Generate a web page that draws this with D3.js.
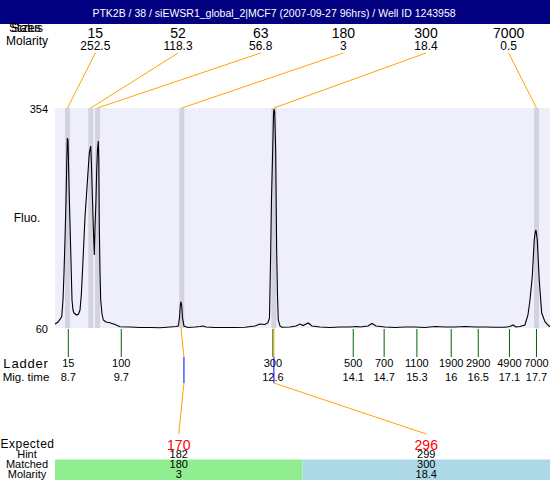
<!DOCTYPE html>
<html><head><meta charset="utf-8">
<script src="https://cdn.jsdelivr.net/npm/d3@7/dist/d3.min.js"></script>
<style>
html,body{margin:0;padding:0;background:#fff;}
svg{display:block;font-family:"Liberation Sans",Arial,Helvetica,sans-serif;}
</style></head>
<body>
<svg id="chart" width="550" height="480"></svg>
<script>
const title = "PTK2B / 38 / siEWSR1_global_2|MCF7 (2007-09-27 96hrs) / Well ID 1243958";

// Detected peaks
const peakSizes = ["15","52","63","180","300","7000"];
const peakMolarity = ["252.5","118.3","56.8","3","18.4","0.5"];
const peakTimes = [8.69, 9.138, 9.267, 10.89, 12.66, 17.71];

// Ladder
const ladderSizes = ["15","100","300","500","700","1100","1900","2900","4900","7000"];
const ladderMigLabels = ["8.7","9.7","12.6","14.1","14.7","15.3","16","16.5","17.1","17.7"];
const ladderTimes = [8.706, 9.725, 12.64, 14.186, 14.78, 15.41, 16.07, 16.59, 17.19, 17.71];

// Expected / matched
const expected = ["170","296"];
const hints = ["182","299"];
const matched = ["180","300"];
const matchedMolarity = ["3","18.4"];
const matchedPeakTimes = [10.873, 12.66];
const matchedMarkTimes = [10.93, 12.66];

// Y axis
const yTicks = [60, 354];

// Electropherogram trace
const traceTime = [8.450,8.508,8.579,8.604,8.623,8.642,8.662,8.675,8.687,8.700,8.713,8.725,8.752,8.777,8.796,8.815,8.867,8.902,8.931,8.956,8.983,9.027,9.056,9.071,9.094,9.110,9.137,9.148,9.167,9.187,9.206,9.219,9.238,9.252,9.267,9.283,9.292,9.302,9.315,9.329,9.354,9.379,9.431,9.508,9.604,9.700,9.892,10.085,10.277,10.469,10.662,10.777,10.821,10.844,10.860,10.873,10.887,10.902,10.931,11.008,11.142,11.238,11.296,11.354,11.527,11.719,11.912,12.104,12.296,12.392,12.488,12.546,12.575,12.598,12.613,12.637,12.652,12.662,12.675,12.694,12.713,12.729,12.744,12.777,12.810,12.969,13.085,13.162,13.219,13.321,13.392,13.546,13.738,13.931,14.123,14.258,14.315,14.469,14.546,14.623,14.796,14.988,15.181,15.373,15.565,15.758,15.950,16.142,16.335,16.527,16.719,16.912,17.104,17.200,17.258,17.315,17.392,17.488,17.546,17.585,17.629,17.667,17.687,17.700,17.713,17.725,17.763,17.810,17.873,17.931,17.969];
const traceFluo = [65.3,68.0,75.1,97.4,133.5,177.6,230.8,277.8,313.8,311.2,271.1,235.0,164.2,97.4,84.0,80.0,77.4,78.7,84.0,104.1,141.9,208.7,237.7,253.7,277.8,293.8,303.2,284.4,240.4,195.1,157.5,193.6,231.0,271.1,297.8,309.8,284.4,194.9,137.5,97.4,78.7,70.7,68.0,67.1,64.7,61.7,61.3,60.7,60.7,60.4,61.3,62.0,62.7,73.4,90.7,95.1,89.4,73.4,62.7,60.7,61.3,62.0,62.7,61.3,60.7,60.7,60.7,61.1,62.7,65.3,64.7,67.1,73.4,160.2,231.0,297.8,344.6,352.6,348.6,297.8,164.2,104.1,70.7,62.7,61.0,61.3,62.7,65.3,63.3,66.7,62.7,61.3,60.7,61.3,61.3,62.0,61.3,62.7,66.0,62.7,61.3,60.7,61.3,61.3,60.7,62.0,61.3,61.3,62.0,61.3,61.3,61.0,61.0,62.0,64.0,61.3,62.0,64.0,77.4,97.4,128.5,177.6,188.3,190.9,184.3,177.6,124.1,80.0,68.4,64.0,61.7];

const svg = d3.select("#chart");
const W = 550, H = 480;
const plot = {left: 55, right: 550, top: 108, bottom: 328};

const x = d3.scaleLinear().domain([8.45, 17.97]).range([plot.left, plot.right]);
const y = d3.scaleLinear().domain([60, 354]).range([plot.bottom, plot.top]);
const topBand = d3.scaleBand().domain(peakSizes.map((d,i)=>i)).range([54, 550]);
const botBand = d3.scaleBand().domain(expected.map((d,i)=>i)).range([plot.left, plot.right]);

// Title bar
svg.append("rect").attr("x",0).attr("y",0).attr("width",W).attr("height",24).attr("fill","#000080");
svg.append("text").attr("x",W/2-1).attr("y",17).attr("text-anchor","middle")
  .attr("fill","#fff").attr("font-size",10.5).text(title);

// Row labels top
svg.append("text").attr("x",26).attr("y",32).attr("text-anchor","middle").attr("font-size",12).text("Sizes");
svg.append("text").attr("x",26).attr("y",32).attr("text-anchor","middle").attr("font-size",12).text("Status");
svg.append("text").attr("x",27).attr("y",45).attr("text-anchor","middle").attr("font-size",12).text("Molarity");

// Plot background
svg.append("rect").attr("x",plot.left).attr("y",plot.top)
  .attr("width",plot.right-plot.left).attr("height",plot.bottom-plot.top).attr("fill","#efeffc");

// Peak bands
svg.append("g").selectAll("rect").data(peakTimes).join("rect")
  .attr("x",d=>x(d)-2.5).attr("y",plot.top).attr("width",5).attr("height",plot.bottom-plot.top)
  .attr("fill","#d3d3e0");

// Peak labels
const pl = svg.append("g");
pl.selectAll("text.size").data(peakSizes).join("text").attr("class","size")
  .attr("x",(d,i)=>topBand(i)+topBand.bandwidth()/2).attr("y",38).attr("text-anchor","middle")
  .attr("font-size",14).text(d=>d);
pl.selectAll("text.mol").data(peakMolarity).join("text").attr("class","mol")
  .attr("x",(d,i)=>topBand(i)+topBand.bandwidth()/2).attr("y",50).attr("text-anchor","middle")
  .attr("font-size",12).text(d=>d);
pl.selectAll("line").data(peakTimes).join("line")
  .attr("x1",(d,i)=>topBand(i)+topBand.bandwidth()/2).attr("y1",53)
  .attr("x2",d=>x(d)).attr("y2",plot.top)
  .attr("stroke","#ffa500").attr("stroke-width",1);

// Trace
const pts = traceTime.map((t,i)=>[t, traceFluo[i]]);
svg.append("path").datum(pts)
  .attr("d", d3.line().x(d=>x(d[0])).y(d=>y(d[1])))
  .attr("fill","none").attr("stroke","#000").attr("stroke-width",1.1);

// Y labels
svg.append("g").selectAll("text").data(yTicks).join("text")
  .attr("x",48).attr("y",d=>y(d)+5).attr("text-anchor","end").attr("font-size",11).text(d=>d);
svg.append("text").attr("x",27).attr("y",222).attr("text-anchor","middle").attr("font-size",12).text("Fluo.");

// Ladder ticks
const lg = svg.append("g");
lg.selectAll("line").data(ladderTimes).join("line")
  .attr("x1",d=>x(d)).attr("x2",d=>x(d)).attr("y1",plot.bottom+1).attr("y2",357)
  .attr("stroke","#006400").attr("stroke-width",1);
lg.selectAll("text.ls").data(ladderSizes).join("text").attr("class","ls")
  .attr("x",(d,i)=>x(ladderTimes[i])).attr("y",367).attr("text-anchor","middle")
  .attr("font-size",11).text(d=>d);
lg.selectAll("text.lm").data(ladderMigLabels).join("text").attr("class","lm")
  .attr("x",(d,i)=>x(ladderTimes[i])).attr("y",381).attr("text-anchor","middle")
  .attr("font-size",11).text(d=>d);
svg.append("text").attr("x",26).attr("y",368).attr("text-anchor","middle").attr("font-size",13)
  .attr("letter-spacing",0.8).text("Ladder");
svg.append("text").attr("x",26).attr("y",381).attr("text-anchor","middle").attr("font-size",11.5).text("Mig. time");

// Expected connectors
const eg = svg.append("g");
expected.forEach((e,i)=>{
  const px = x(matchedPeakTimes[i]), mx = x(matchedMarkTimes[i]);
  const lx = botBand(i)+botBand.bandwidth()/2;
  eg.append("polyline").attr("points",`${px},${plot.bottom} ${mx},357`)
    .attr("fill","none").attr("stroke","#ffa500");
  eg.append("line").attr("x1",mx).attr("x2",mx).attr("y1",357).attr("y2",383)
    .attr("stroke","#0000ff");
  eg.append("line").attr("x1",mx).attr("y1",383).attr("x2",lx).attr("y2",434)
    .attr("stroke","#ffa500");
});

// Bottom rows
const bg = svg.append("g");
bg.selectAll("rect").data(matched).join("rect")
  .attr("x",(d,i)=>botBand(i)).attr("y",459.5).attr("width",botBand.bandwidth()).attr("height",H-459.5)
  .attr("fill",(d,i)=>i===0?"#90ee90":"#add8e6");
const cx = i => botBand(i)+botBand.bandwidth()/2;
bg.selectAll("text.exp").data(expected).join("text").attr("class","exp")
  .attr("x",(d,i)=>cx(i)).attr("y",449.5).attr("text-anchor","middle").attr("font-size",14)
  .attr("fill","#ff0000").text(d=>d);
bg.selectAll("text.hint").data(hints).join("text").attr("class","hint")
  .attr("x",(d,i)=>cx(i)).attr("y",457.5).attr("text-anchor","middle").attr("font-size",11).text(d=>d);
bg.selectAll("text.mat").data(matched).join("text").attr("class","mat")
  .attr("x",(d,i)=>cx(i)).attr("y",467.5).attr("text-anchor","middle").attr("font-size",11).text(d=>d);
bg.selectAll("text.mm").data(matchedMolarity).join("text").attr("class","mm")
  .attr("x",(d,i)=>cx(i)).attr("y",477.5).attr("text-anchor","middle").attr("font-size",11).text(d=>d);

svg.append("text").attr("x",27.5).attr("y",448).attr("text-anchor","middle").attr("font-size",12)
  .attr("letter-spacing",0.5).text("Expected");
svg.append("text").attr("x",27).attr("y",457.5).attr("text-anchor","middle").attr("font-size",11).text("Hint");
svg.append("text").attr("x",27).attr("y",467.5).attr("text-anchor","middle").attr("font-size",11).text("Matched");
svg.append("text").attr("x",27).attr("y",477.5).attr("text-anchor","middle").attr("font-size",11).text("Molarity");
</script>
</body></html>
